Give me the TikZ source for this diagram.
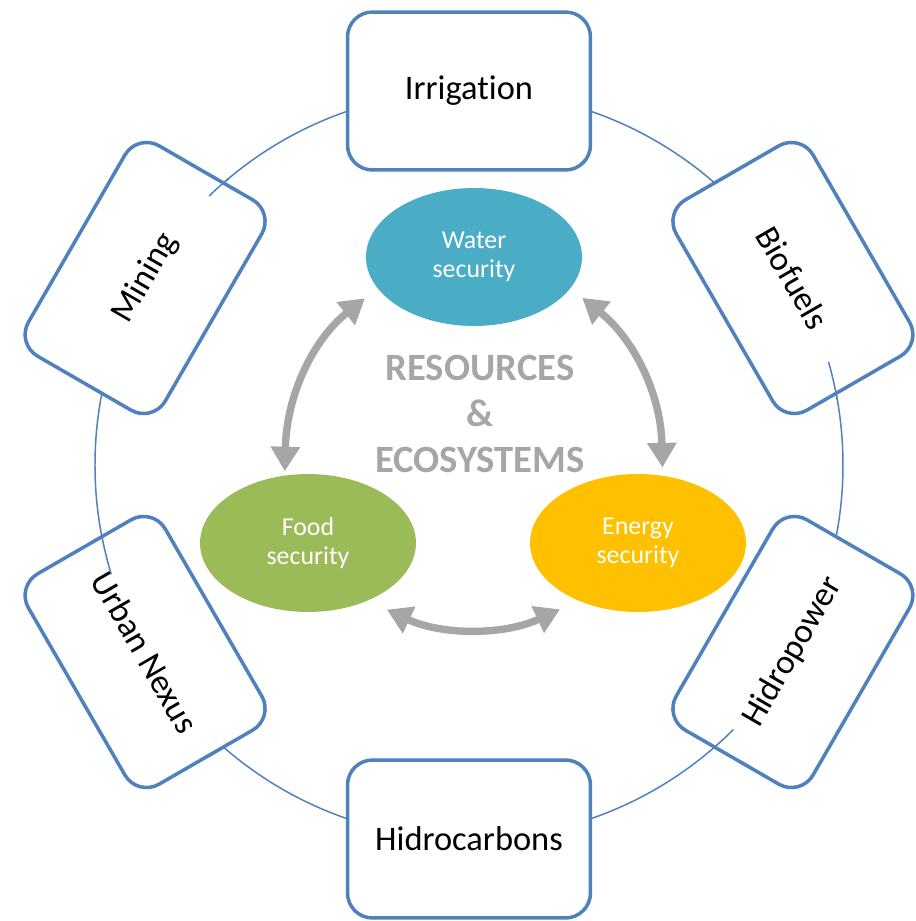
\documentclass[tikz,border=0pt]{standalone}
\usepackage{fontspec}
\setmainfont{Carlito}[Ligatures=NoCommon]
\usetikzlibrary{arrows.meta,shapes.geometric}
\definecolor{ringblue}{HTML}{4F81BD}
\definecolor{watercol}{HTML}{4BACC6}
\definecolor{foodcol}{HTML}{9BBB59}
\definecolor{energycol}{HTML}{FFC000}
\definecolor{flowgray}{HTML}{A6A6A6}
\newcommand{\ringrad}{374}
\tikzset{
    ringsty/.style={draw=ringblue, line width=0.85pt},
    sectorsty/.style={draw=ringblue, fill=white, line width=2pt, rounded corners=0.5cm, rectangle, minimum width=4.86cm, minimum height=3.16cm, font=\fontsize{19.6}{23}\selectfont, anchor=center},
    securesty/.style={ellipse, minimum width=4.32cm, minimum height=2.76cm, inner sep=0pt, text=white, align=center, font=\fontsize{14.7}{16.4}\selectfont},
    flowsty/.style={draw=flowgray, line width=4.2pt, {Triangle[length=14pt,width=16pt]}-{Triangle[length=14pt,width=16pt]}},
    hubsty/.style={text=flowgray, align=center, font=\bfseries\fontsize{22}{26}\selectfont},
}

\begin{document}
\begin{tikzpicture}[x=0.02cm, y=0.02cm]
  \useasboundingbox (-469,-456) rectangle (447,465);
  % ring behind the sectors
  \draw[ringsty] (0,0) circle[radius=\ringrad];

  % sectors round the ring
  \node[sectorsty] (irrig) at (90:\ringrad) {Irrigation};
  \node[sectorsty, rotate=-60] (biofuel) at (30:\ringrad) {Biofuels};
  \node[sectorsty, rotate=60] (hydro) at (-30:\ringrad) {Hidropower};
  \node[sectorsty] (hcarb) at (-90:\ringrad) {Hidrocarbons};
  \node[sectorsty, rotate=-60] (urban) at (210:\ringrad) {Urban Nexus};
  \node[sectorsty, rotate=60] (mining) at (150:\ringrad) {Mining};

  % short pieces of the ring that run into the boxes
  \draw[ringsty] (130:\ringrad) arc[start angle=130, end angle=134, radius=\ringrad];
  \draw[ringsty] (10:\ringrad) arc[start angle=10, end angle=16, radius=\ringrad];
  \draw[ringsty] (-49:\ringrad) arc[start angle=-49, end angle=-45, radius=\ringrad];
  \draw[ringsty] (191:\ringrad) arc[start angle=191, end angle=197, radius=\ringrad];

  % securities
  \node[securesty, fill=watercol] (water) at (5,208) {Water\\security};
  \node[securesty, fill=foodcol] (food) at (-161,-78) {Food\\security};
  \node[securesty, fill=energycol] (energy) at (169,-78) {Energy\\security};
  \node[hubsty] (hub) at (11,51) {RESOURCES\\\&\\ECOSYSTEMS};

  % links between securities
  \draw[flowsty, shorten <=0.32cm, shorten >=0.08cm] (water.198) to[bend right=25] (food.109);
  \draw[flowsty, shorten <=0.30cm, shorten >=0.16cm] (water.-18) to[bend left=25] (energy.70);
  \draw[flowsty, shorten <=0.42cm, shorten >=0.40cm] (food.-44) to[bend right=25] (energy.224);
\end{tikzpicture}
\end{document}
